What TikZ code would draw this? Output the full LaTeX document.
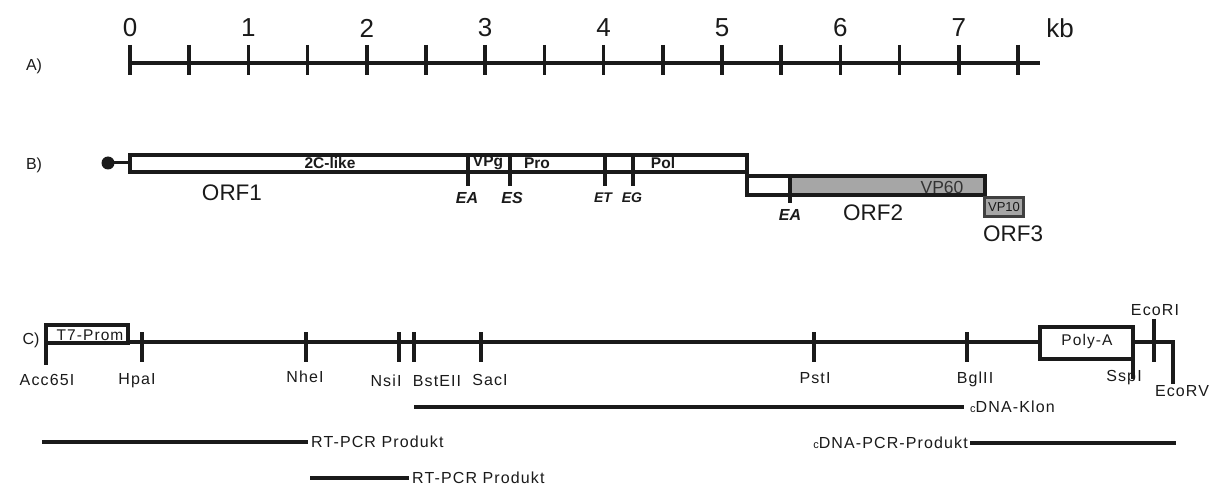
\documentclass[tikz,border=0pt]{standalone}
\usepackage{fontspec}
\setmainfont{Liberation Sans}
\newfontfamily\labfont[LetterSpace=7]{Liberation Sans}
\definecolor{ink}{HTML}{1A1A1A}
\definecolor{fillgray}{HTML}{A6A6A6}
\begin{document}
\begin{tikzpicture}[x=1pt,y=-1pt,
  bar/.style={line width=4pt, draw=ink},
  tk/.style={line width=3.5pt, draw=ink},
  boxln/.style={line width=4pt, draw=ink},
  num/.style={inner sep=0pt, font=\fontsize{26}{26}\selectfont, text=ink},
  rowlab/.style={inner sep=0pt, font=\fontsize{16}{16}\selectfont, text=ink},
  dom/.style={inner sep=0pt, font=\bfseries\fontsize{15.5}{15.5}\selectfont, text=ink},
  orf/.style={inner sep=0pt, font=\fontsize{22.5}{22.5}\selectfont, text=ink},
  cut/.style={inner sep=0pt, font=\bfseries\itshape\fontsize{16}{16}\selectfont, text=ink},
  cuts/.style={inner sep=0pt, font=\bfseries\itshape\fontsize{14}{14}\selectfont, text=ink},
  site/.style={inner sep=0pt, font=\labfont\fontsize{16}{16}\selectfont, text=ink},
  boxtext/.style={inner sep=0pt, font=\labfont\fontsize{15.5}{15.5}\selectfont, text=ink},
]
\useasboundingbox (0,0) rectangle (1210,486);

% ---------------- A) scale ----------------
\node[rowlab] (labA) at (34,66) {A)};
\coordinate (a0) at (130,63);
\coordinate (aend) at (1040,63);
\draw[bar] (a0) -- (aend);
\foreach \i in {0,...,15} \draw[tk] ({130+59.2*\i},45) -- ({130+59.2*\i},75);
\foreach \k in {0,...,7} \node[num] (n\k) at ({130+118.4*\k},28) {\k};
\node[num] (kb) at (1060,28) {kb};

% ---------------- B) genome ----------------
\node[rowlab] (labB) at (34,165) {B)};
\fill[ink] (108,163) circle (6.5);
\coordinate (dot) at (108,163);
\coordinate (orf1start) at (130,163);
\draw[line width=3pt, ink] (dot) -- (orf1start);
\draw[boxln] (130,155) rectangle (747,172.5);
\foreach \x in {467.5,509.5,605,632.5} \draw[boxln] (\x,155) -- (\x,186);
\node[dom] (c2) at (330,163) {2C-like};
\node[dom] (vpg) at (488,163) {VPg};
\node[dom] (pro) at (537,163) {Pro};
\node[dom] (pol) at (663,163) {Pol};
\node[orf] (orf1) at (232,193) {ORF1};
\node[cut] (ea1) at (467,198) {EA};
\node[cut] (es) at (512,198) {ES};
\node[cuts] (et) at (603,198) {ET};
\node[cuts] (eg) at (632,198) {EG};

\fill[fillgray] (790,176.5) rectangle (985,195);
\draw[boxln] (747,176.5) rectangle (985,195);
\draw[boxln] (790,176.5) -- (790,203);
\node[inner sep=0pt, font=\fontsize{17.5}{17.5}\selectfont, text=black!80] (vp60) at (942,187) {VP60};
\node[cut] (ea2) at (790,215) {EA};
\node[orf] (orf2) at (873,213) {ORF2};

\draw[line width=3pt, draw=black!75, fill=fillgray] (984.5,197.5) rectangle (1023.5,216.5);
\node[inner sep=0pt, font=\fontsize{13}{13}\selectfont, text=ink] (vp10) at (1004,207) {VP10};
\node[orf] (orf3) at (1013,234) {ORF3};

% ---------------- C) construct ----------------
\node[rowlab] (labC) at (31,340) {C)};
\draw[boxln] (46,325) rectangle (128,343);
\draw[boxln] (46,343) -- (46,365);
\node[boxtext] (t7) at (90,335.5) {T7-Prom};
\draw[bar] (130,342) -- (1040,342);
\draw[boxln] (1040,327) rectangle (1133,359);
\node[boxtext] (polya) at (1087,341) {Poly-A};
\draw[boxln] (1133,359) -- (1133,379);
\draw[bar] (1133,342) -- (1173,342) -- (1173,384);
\draw[tk] (1154,319) -- (1154,362);
\foreach \x in {142,306,399,414,481,814,967} \draw[tk] (\x,332) -- (\x,362);

\node[site] (acc) at (47,380) {Acc65I};
\node[site] (hpa) at (137,381) {HpaI};
\node[site] (nhe) at (305,377) {NheI};
\node[site] (nsi) at (386,381) {NsiI};
\node[site] (bst) at (437,381) {BstEII};
\node[site] (sac) at (490,380) {SacI};
\node[site] (pst) at (815,378) {PstI};
\node[site] (bgl) at (975,379) {BglII};
\node[site] (ssp) at (1124,378) {SspI};
\node[site] (ecori) at (1155,310) {EcoRI};
\node[site] (ecorv) at (1182,391) {EcoRV};

% ---------------- products ----------------
\coordinate (k1) at (414,407); \coordinate (k2) at (964,407);
\draw[bar] (k1) -- (k2);
\node[site, anchor=west] (klon) at (970,407) {{\fontsize{11}{11}\selectfont c}DNA-Klon};

\coordinate (r1a) at (42,442); \coordinate (r1b) at (308,442);
\draw[bar] (r1a) -- (r1b);
\node[site, anchor=west] (rt1) at (311,442) {RT-PCR Produkt};

\coordinate (r2a) at (310,478); \coordinate (r2b) at (409,478);
\draw[bar] (r2a) -- (r2b);
\node[site, anchor=west] (rt2) at (412,478) {RT-PCR Produkt};

\coordinate (p1) at (970,443); \coordinate (p2) at (1176,443);
\draw[bar] (p1) -- (p2);
\node[site, anchor=east] (cpcr) at (968,443) {{\fontsize{11}{11}\selectfont c}DNA-PCR-Produkt};
\end{tikzpicture}
\end{document}
